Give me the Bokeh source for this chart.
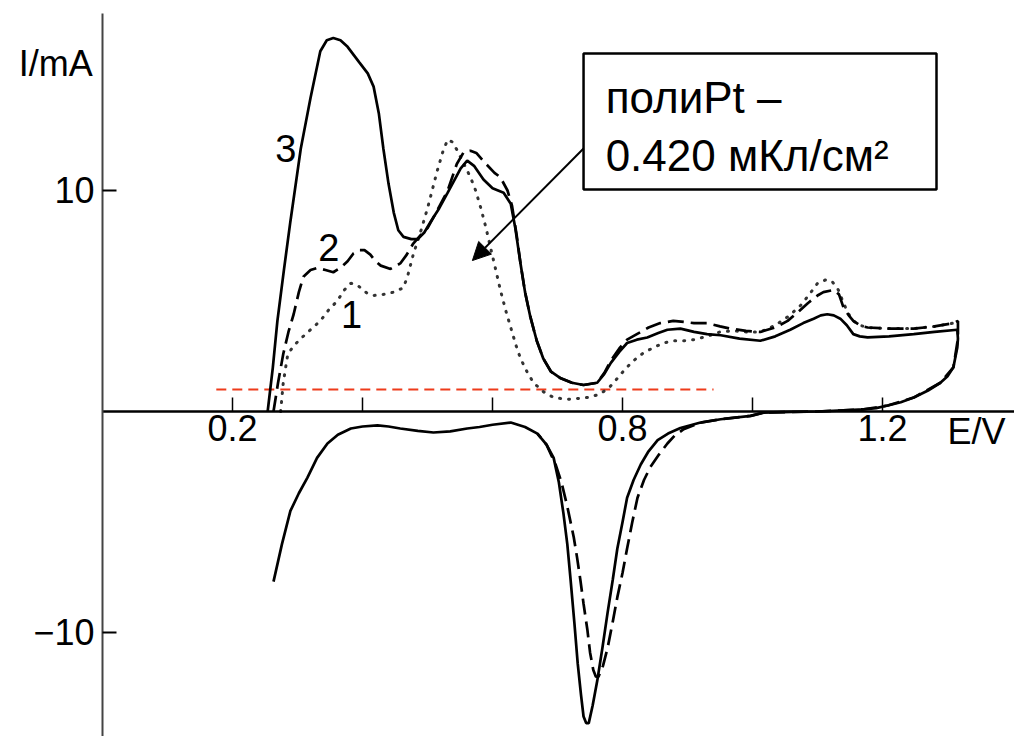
from bokeh.plotting import figure
from bokeh.models import Range1d, FixedTicker, LinearAxis, Label, Arrow, NormalHead
from bokeh.embed import file_html
from bokeh.resources import INLINE

# ---- data (E in V, I in mA) ----
curve3_E = [0.254, 0.262, 0.269, 0.279, 0.289, 0.305, 0.320, 0.335, 0.345, 0.355, 0.366, 0.377, 0.395, 0.408,
            0.417, 0.425, 0.432, 0.440, 0.448, 0.455, 0.463, 0.475, 0.485, 0.495, 0.505, 0.518, 0.531, 0.551,
            0.561, 0.572, 0.586, 0.600, 0.617, 0.628, 0.635, 0.643, 0.650, 0.658, 0.668, 0.678, 0.690, 0.705,
            0.722, 0.740, 0.761, 0.772, 0.782, 0.795, 0.807, 0.822, 0.838, 0.855, 0.869, 0.889, 0.910, 0.930,
            0.951, 0.980, 1.012, 1.035, 1.058, 1.078, 1.094, 1.105, 1.115, 1.125, 1.135, 1.145, 1.155, 1.165,
            1.177, 1.210, 1.248, 1.280, 1.315,
            1.316, 1.315, 1.309, 1.300, 1.289, 1.270, 1.248, 1.228, 1.208, 1.190, 1.171, 1.140, 1.100, 1.060,
            1.017, 0.997, 0.951, 0.920, 0.889, 0.870, 0.854, 0.840, 0.828, 0.817, 0.807, 0.800, 0.792, 0.785,
            0.777, 0.769, 0.761, 0.754, 0.748, 0.744, 0.740, 0.736, 0.731, 0.726, 0.720, 0.715, 0.709, 0.702,
            0.694, 0.683, 0.669, 0.650, 0.628, 0.600, 0.580, 0.561, 0.535, 0.509, 0.485, 0.458, 0.440, 0.423,
            0.400, 0.382, 0.362, 0.346, 0.330, 0.315, 0.302, 0.289, 0.276, 0.263]
curve3_I = [0.0, 2.0, 4.1, 6.4, 8.6, 11.9, 14.2, 16.3, 16.8, 16.9, 16.8, 16.5, 15.8, 15.3,
            14.7, 13.5, 11.9, 10.3, 9.0, 8.2, 7.9, 7.8, 7.8, 8.1, 8.6, 9.2, 9.9, 11.0,
            11.35, 11.1, 10.5, 10.1, 9.9, 9.4, 8.3, 6.7, 5.4, 4.3, 3.2, 2.4, 1.8, 1.5,
            1.3, 1.2, 1.3, 1.7, 2.2, 2.7, 3.1, 3.25, 3.35, 3.55, 3.7, 3.75, 3.6, 3.5,
            3.45, 3.3, 3.2, 3.4, 3.7, 4.0, 4.2, 4.35, 4.4, 4.35, 4.2, 3.9, 3.5, 3.4,
            3.35, 3.4, 3.5, 3.6, 3.7,
            3.3, 2.9, 2.0, 1.6, 1.3, 0.95, 0.63, 0.42, 0.27, 0.15, 0.1, 0.05, 0.0, -0.02,
            -0.05, -0.2, -0.35, -0.5, -0.75, -1.0, -1.3, -1.8, -2.4, -3.1, -3.9, -5.0, -6.2, -7.6,
            -9.1, -10.7, -12.2, -13.3, -14.1, -14.1, -13.8, -12.8, -11.4, -9.6, -7.6, -6.0, -4.6, -3.2,
            -2.1, -1.5, -1.0, -0.7, -0.5, -0.6, -0.7, -0.77, -0.9, -0.95, -0.88, -0.77, -0.68, -0.63,
            -0.68, -0.77, -1.05, -1.45, -2.1, -3.0, -3.7, -4.5, -6.0, -7.7]

curve2_E = [0.263, 0.270, 0.278, 0.286, 0.294, 0.302, 0.309, 0.320, 0.331, 0.343, 0.355, 0.366, 0.377, 0.386,
            0.394, 0.403, 0.412, 0.420, 0.428, 0.443, 0.458, 0.468, 0.478, 0.490, 0.500, 0.515, 0.531, 0.545,
            0.556, 0.566, 0.575, 0.590, 0.603, 0.612, 0.623, 0.630, 0.637, 0.643, 0.650, 0.658, 0.668, 0.678,
            0.690, 0.705, 0.722, 0.740, 0.761, 0.772, 0.782, 0.795, 0.807, 0.822, 0.840, 0.858, 0.878, 0.895,
            0.910, 0.930, 0.950, 0.966, 0.990, 1.012, 1.035, 1.054, 1.070, 1.085, 1.100, 1.109, 1.125, 1.133,
            1.140, 1.148, 1.155, 1.165, 1.177, 1.210, 1.248, 1.280, 1.309, 1.316,
            1.316, 1.309, 1.289, 1.248, 1.208, 1.171, 1.100, 1.017, 0.997, 0.951, 0.920, 0.894, 0.880, 0.869,
            0.856, 0.843, 0.833, 0.823, 0.815, 0.807, 0.800, 0.792, 0.785, 0.777, 0.770, 0.763, 0.759, 0.755,
            0.750, 0.746, 0.740, 0.735, 0.730, 0.725, 0.715, 0.706, 0.697, 0.683, 0.669]
curve2_I = [0.0, 1.3, 2.6, 3.6, 4.4, 5.4, 6.1, 6.4, 6.5, 6.4, 6.3, 6.5, 6.8, 7.15,
            7.3, 7.3, 7.1, 6.8, 6.6, 6.45, 6.7, 7.1, 7.6, 8.0, 8.3, 9.1, 10.0, 11.2,
            11.75, 11.8, 11.7, 11.2, 10.8, 10.6, 10.0, 9.3, 8.0, 6.7, 5.4, 4.3, 3.2, 2.4,
            1.8, 1.5, 1.3, 1.2, 1.3, 1.75, 2.3, 2.85, 3.25, 3.5, 3.8, 4.0, 4.1, 4.05,
            4.0, 4.0, 3.85, 3.75, 3.65, 3.6, 3.8, 4.1, 4.5, 4.9, 5.25, 5.4, 5.5, 5.3,
            4.7, 4.35, 4.1, 3.9, 3.8, 3.75, 3.75, 3.85, 4.0, 4.1,
            3.3, 2.0, 1.3, 0.63, 0.27, 0.1, 0.0, -0.05, -0.2, -0.35, -0.5, -0.8, -1.1, -1.45,
            -1.95, -2.5, -3.1, -3.9, -5.0, -6.2, -7.3, -8.4, -9.5, -10.7, -11.5, -12.0, -12.0, -11.7,
            -10.9, -9.9, -8.7, -7.6, -6.6, -5.7, -4.3, -3.2, -2.4, -1.5, -1.0]

curve1_E = [0.274, 0.278, 0.285, 0.295, 0.305, 0.320, 0.335, 0.348, 0.361, 0.372, 0.382, 0.390, 0.397, 0.407,
            0.417, 0.433, 0.448, 0.463, 0.470, 0.478, 0.490, 0.500, 0.515, 0.524, 0.531, 0.538, 0.546, 0.556,
            0.566, 0.574, 0.582, 0.590, 0.597, 0.605, 0.612, 0.620, 0.628, 0.636, 0.643, 0.653, 0.663, 0.678,
            0.694, 0.715, 0.735, 0.750, 0.766, 0.780, 0.792, 0.805, 0.817, 0.832, 0.848, 0.863, 0.878, 0.895,
            0.910, 0.930, 0.950, 0.970, 0.990, 1.012, 1.035, 1.055, 1.074, 1.090, 1.100, 1.112, 1.122, 1.132,
            1.140, 1.148, 1.155, 1.165, 1.177, 1.210, 1.248, 1.280, 1.309]
curve1_I = [0.0, 1.3, 2.6, 3.0, 3.3, 3.7, 4.1, 4.6, 5.0, 5.5, 5.8, 5.75, 5.6, 5.35,
            5.25, 5.3, 5.4, 5.6, 6.2, 7.1, 8.2, 9.2, 10.9, 11.8, 12.3, 12.2, 11.8, 11.2,
            10.6, 10.0, 9.2, 8.3, 7.4, 6.4, 5.5, 4.6, 3.8, 3.0, 2.4, 1.8, 1.3, 0.9,
            0.63, 0.55, 0.6, 0.65, 0.8, 1.1, 1.5, 1.95, 2.3, 2.65, 2.9, 3.1, 3.2, 3.2,
            3.25, 3.4, 3.6, 3.65, 3.6, 3.6, 3.9, 4.3, 4.8, 5.4, 5.8, 5.95, 5.9, 5.5,
            4.9, 4.4, 4.1, 3.9, 3.8, 3.75, 3.75, 3.85, 4.0]

red_line_E = [0.175, 0.94]
red_line_I = [1.0, 1.0]

x_major_ticks = [0.2, 0.8, 1.2]
x_minor_ticks = [0.4, 0.6, 1.0]
y_major_ticks = [-10, 10]

curve_labels = ["3", "2", "1"]
curve_label_E = [0.282, 0.348, 0.383]
curve_label_I = [11.9, 7.4, 4.4]

note_lines = ["полиPt –", "0.420 мКл/см²"]

NUM_FONT = "Liberation Sans"

p = figure(width=1014, height=736, output_backend="svg", toolbar_location=None,
           x_range=Range1d(-0.157, 1.403), y_range=Range1d(-14.706, 18.597),
           x_axis_location=None, y_axis_location=None,
           min_border_left=0, min_border_right=0, min_border_top=0, min_border_bottom=0)
p.outline_line_color = None
p.grid.grid_line_color = None
p.background_fill_color = "white"
p.border_fill_color = "white"

yaxis = LinearAxis(fixed_location=0, bounds=(-14.706, 18.0),
                   ticker=FixedTicker(ticks=y_major_ticks, minor_ticks=[]))
yaxis.axis_line_color = "#444444"
yaxis.axis_line_width = 2
yaxis.major_tick_in = 14
yaxis.major_tick_out = 0
yaxis.major_tick_line_width = 2
yaxis.minor_tick_line_color = None
yaxis.major_label_standoff = 8
yaxis.major_label_text_font = NUM_FONT
yaxis.major_label_text_font_size = "36px"
yaxis.major_label_text_color = "black"
yaxis.major_label_overrides = {-10: "\u221210"}
p.add_layout(yaxis, "left")

xaxis = LinearAxis(fixed_location=0, bounds=(0, 1.403),
                   ticker=FixedTicker(ticks=x_major_ticks, minor_ticks=x_minor_ticks))
xaxis.axis_line_color = "black"
xaxis.axis_line_width = 2.5
xaxis.major_tick_in = 14
xaxis.major_tick_out = 0
xaxis.minor_tick_in = 14
xaxis.minor_tick_out = 0
xaxis.major_tick_line_width = 1.5
xaxis.minor_tick_line_width = 1.5
xaxis.minor_tick_line_color = "black"
xaxis.major_label_standoff = 4
xaxis.major_label_text_font = NUM_FONT
xaxis.major_label_text_font_size = "36px"
xaxis.major_label_text_color = "black"
p.add_layout(xaxis, "below")

p.line(red_line_E, red_line_I, line_color="#ee3b1b", line_width=2, line_dash="10 6")
p.line(curve1_E, curve1_I, line_color="#333333", line_width=3, line_dash="1 8", line_cap="round")
p.line(curve2_E, curve2_I, line_color="black", line_width=2.7, line_dash="16 7")
p.line(curve3_E, curve3_I, line_color="black", line_width=2.7)

for t, ex, iy in zip(curve_labels, curve_label_E, curve_label_I):
    p.add_layout(Label(x=ex, y=iy, text=t, text_font=NUM_FONT, text_font_size="38px",
                       text_align="center", text_baseline="middle", text_color="black"))

p.add_layout(Label(x=-0.129, y=15.75, text="I/mA", text_font=NUM_FONT, text_font_size="36px",
                   text_baseline="alphabetic", text_color="black"))
p.add_layout(Label(x=1.30, y=-0.9, text="E/V", text_font=NUM_FONT, text_font_size="36px",
                   text_baseline="alphabetic", text_color="black"))

# annotation box with arrow
p.quad(left=[0.740], right=[1.283], top=[16.2], bottom=[10.05],
       fill_color="white", line_color="black", line_width=2.5)
p.add_layout(Arrow(end=NormalHead(size=18, fill_color="black", line_color="black"),
                   x_start=0.740, y_start=11.9, x_end=0.569, y_end=6.83,
                   line_color="black", line_width=2))
p.add_layout(Label(x=0.774, y=14.2, text=note_lines[0], text_font="Liberation Sans",
                   text_font_size="44px", text_baseline="alphabetic", text_color="black"))
p.add_layout(Label(x=0.774, y=11.6, text=note_lines[1], text_font="Liberation Sans",
                   text_font_size="44px", text_baseline="alphabetic", text_color="black"))

open("out.html", "w").write(file_html(p, INLINE))
